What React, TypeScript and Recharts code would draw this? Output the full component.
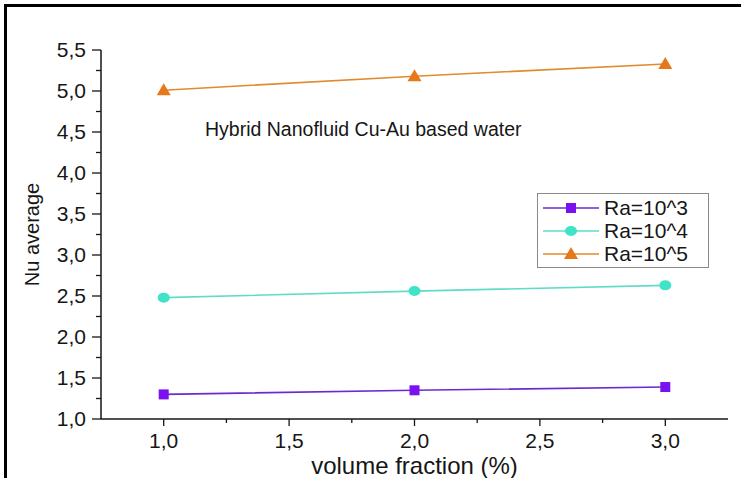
import { LineChart, Line, XAxis, YAxis, Legend, Label } from 'recharts';

const FRACTIONS = [1, 2, 3];
const NU_RA_1E3 = [1.3, 1.35, 1.39];
const NU_RA_1E4 = [2.48, 2.56, 2.63];
const NU_RA_1E5 = [5.01, 5.18, 5.33];

const SERIES_NAMES = ['Ra=10^3', 'Ra=10^4', 'Ra=10^5'];
const X_TICKS = [1, 1.25, 1.5, 1.75, 2, 2.25, 2.5, 2.75, 3];
const Y_TICKS = [1, 1.25, 1.5, 1.75, 2, 2.25, 2.5, 2.75, 3, 3.25, 3.5, 3.75, 4, 4.25, 4.5, 4.75, 5, 5.25, 5.5];

const FONT = '"Liberation Sans", Arial, sans-serif';
const INK = '#161616';

const SERIES = [
  { key: 'ra3', name: SERIES_NAMES[0], values: NU_RA_1E3, line: '#6a2bcc', fill: '#7a12f0', shape: 'square' },
  { key: 'ra4', name: SERIES_NAMES[1], values: NU_RA_1E4, line: '#5fdcc6', fill: '#3fe3c6', shape: 'circle' },
  { key: 'ra5', name: SERIES_NAMES[2], values: NU_RA_1E5, line: '#e28a2e', fill: '#e5781a', shape: 'triangle' },
];

const data = FRACTIONS.map((x, i) => {
  const row: Record<string, number> = { x };
  SERIES.forEach(s => { row[s.key] = s.values[i]; });
  return row;
});

const isMajor = (v: number) => Math.abs(v * 2 - Math.round(v * 2)) < 1e-6;
const fmt = (v: number) => v.toFixed(1).replace('.', ',');

function Marker({ cx, cy, shape, fill }: { cx: number; cy: number; shape: string; fill: string }) {
  if (shape === 'square') return <rect x={cx - 5} y={cy - 5} width={10} height={10} fill={fill} />;
  if (shape === 'circle') return <ellipse cx={cx} cy={cy} rx={6} ry={5} fill={fill} />;
  return <polygon points={`${cx},${cy - 7} ${cx + 7},${cy + 5} ${cx - 7},${cy + 5}`} fill={fill} />;
}

// ticks are drawn by hand so minor/major lengths can differ
function AxisTick(props: any) {
  const { x, y, payload, side } = props;
  const v = payload.value as number;
  const major = isMajor(v);
  const len = major ? 9 : 5;
  const stroke = { stroke: INK, strokeWidth: 1.3 };
  if (side === 'left') {
    return (
      <g>
        <line x1={x - len} x2={x} y1={y} y2={y} {...stroke} />
        {major && (
          <text x={x - 15} y={y + 7} textAnchor="end" fontSize={21} fill={INK} fontFamily={FONT}>
            {fmt(v)}
          </text>
        )}
      </g>
    );
  }
  if (side === 'right') return <line x1={x - len} x2={x} y1={y} y2={y} {...stroke} />;
  const tl = major ? 7 : 4;
  if (side === 'top') return <line x1={x} x2={x} y1={y} y2={y + tl} {...stroke} />;
  return (
    <g>
      <line x1={x} x2={x} y1={y} y2={y + tl} {...stroke} />
      {major && (
        <text x={x} y={y + 29} textAnchor="middle" fontSize={21} fill={INK} fontFamily={FONT}>
          {fmt(v)}
        </text>
      )}
    </g>
  );
}

function LegendBox() {
  return (
    <div style={{ border: '1px solid #8a8a8a', background: '#fff', padding: '2px 0', fontFamily: FONT }}>
      {SERIES.map(s => (
        <div key={s.key} style={{ display: 'flex', alignItems: 'center', height: 23 }}>
          <svg width={60} height={20} style={{ marginLeft: 3 }}>
            <line x1={2} x2={58} y1={10} y2={10} stroke={s.line} strokeWidth={1.6} />
            <Marker cx={30} cy={10} shape={s.shape} fill={s.fill} />
          </svg>
          <span style={{ fontSize: 21, color: INK, marginLeft: 3 }}>{s.name}</span>
        </div>
      ))}
    </div>
  );
}

export default function App() {
  return (
    <div style={{ position: 'relative', width: 741, height: 478, background: '#fff', overflow: 'hidden' }}>
      <style>{'body{margin:0}'}</style>
      <div
        style={{
          position: 'absolute', left: 4, top: 4, right: -10, bottom: -10,
          borderTop: '3px solid #000', borderLeft: '3px solid #000',
        }}
      />
      <LineChart width={741} height={478} data={data} margin={{ top: 50, right: 13, bottom: 0, left: 0 }}>
        <XAxis
          xAxisId="bottom" dataKey="x" type="number" domain={[0.75, 3.25]} ticks={X_TICKS} interval={0}
          height={59} tickSize={0} tickMargin={0} tickLine={false}
          axisLine={{ stroke: INK, strokeWidth: 1.5 }}
          tick={(p: any) => <AxisTick {...p} side="bottom" />}
        >
          <Label
            content={({ viewBox }: any) => (
              <text x={viewBox.x + viewBox.width / 2} y={viewBox.y + 55} textAnchor="middle" fontSize={24} fill={INK} fontFamily={FONT}>
                volume fraction (%)
              </text>
            )}
          />
        </XAxis>
        <XAxis
          xAxisId="top" orientation="top" dataKey="x" type="number" domain={[0.75, 3.25]} ticks={X_TICKS} interval={0}
          height={0} tickSize={0} tickMargin={0} tickLine={false}
          axisLine={{ stroke: INK, strokeWidth: 1.5 }}
          tick={(p: any) => <AxisTick {...p} side="top" />}
        />
        <YAxis
          yAxisId="left" type="number" domain={[1, 5.5]} ticks={Y_TICKS} interval={0}
          width={101} tickSize={0} tickMargin={0} tickLine={false}
          axisLine={{ stroke: INK, strokeWidth: 1.5 }}
          tick={(p: any) => <AxisTick {...p} side="left" />}
        >
          <Label
            content={({ viewBox }: any) => {
              const cy = viewBox.y + viewBox.height / 2;
              return (
                <text x={39} y={cy} transform={`rotate(-90, 39, ${cy})`} textAnchor="middle" fontSize={20} fill={INK} fontFamily={FONT}>
                  Nu average
                </text>
              );
            }}
          />
        </YAxis>
        <YAxis
          yAxisId="right" orientation="right" type="number" domain={[1, 5.5]} ticks={Y_TICKS} interval={0}
          width={0} tickSize={0} tickMargin={0} tickLine={false}
          axisLine={{ stroke: INK, strokeWidth: 1.5 }}
          tick={(p: any) => <AxisTick {...p} side="right" />}
        />
        {SERIES.map(s => (
          <Line
            key={s.key}
            xAxisId="bottom"
            yAxisId="left"
            type="linear"
            dataKey={s.key}
            name={s.name}
            stroke={s.line}
            strokeWidth={1.6}
            isAnimationActive={false}
            dot={(p: any) => <Marker key={`${s.key}-${p.index}`} cx={p.cx} cy={p.cy} shape={s.shape} fill={s.fill} />}
            activeDot={false}
          />
        ))}
        <Legend
          layout="vertical"
          align="center"
          verticalAlign="middle"
          wrapperStyle={{ position: 'absolute', left: 537, top: 193, width: 172 }}
          content={() => <LegendBox />}
        />
      </LineChart>
      <div
        style={{
          position: 'absolute', left: 205, top: 118, fontSize: 19.5, lineHeight: '22px',
          color: INK, fontFamily: FONT, whiteSpace: 'nowrap',
        }}
      >
        Hybrid Nanofluid Cu-Au based water
      </div>
    </div>
  );
}
